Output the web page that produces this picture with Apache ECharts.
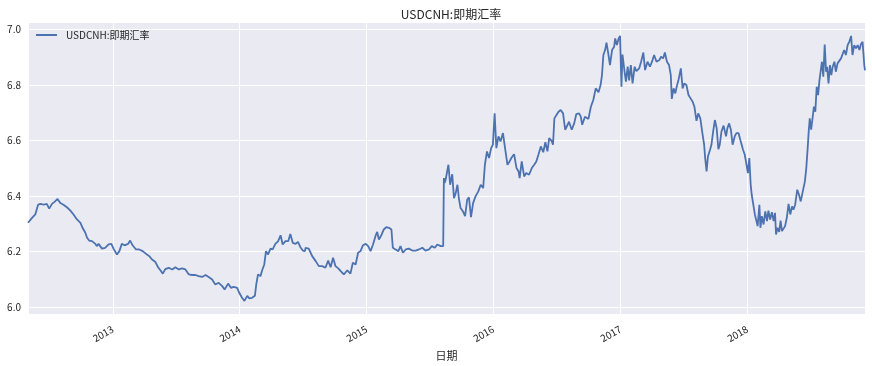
<!DOCTYPE html>
<html><head><meta charset="utf-8">
<script src="https://cdn.jsdelivr.net/npm/echarts@6/dist/echarts.min.js"></script>
<style>html,body{margin:0;padding:0;background:#fff}#c{width:872px;height:366px}</style>
</head><body><div id="c"></div>
<script>
const titleText = 'USDCNH:即期汇率';
const seriesName = 'USDCNH:即期汇率';
const xAxisName = '日期';
const dates = [
'2012-05-02','2012-05-13','2012-05-23','2012-05-31','2012-06-06','2012-06-16','2012-06-25','2012-07-02','2012-07-10','2012-07-19',
'2012-07-26','2012-08-03','2012-08-12','2012-08-22','2012-09-01','2012-09-10','2012-09-20','2012-09-30','2012-10-06','2012-10-14',
'2012-10-19','2012-10-25','2012-11-02','2012-11-12','2012-11-16','2012-11-21','2012-12-01','2012-12-10','2012-12-20','2012-12-28',
'2013-01-03','2013-01-13','2013-01-20','2013-01-27','2013-02-04','2013-02-14','2013-02-20','2013-02-27','2013-03-09','2013-03-18',
'2013-03-28','2013-04-07','2013-04-16','2013-04-24','2013-05-03','2013-05-11','2013-05-18','2013-05-25','2013-06-01',
'2013-06-11','2013-06-21','2013-06-30','2013-07-10','2013-07-19','2013-07-29','2013-08-08','2013-08-17','2013-08-27','2013-09-05',
'2013-09-15','2013-09-25','2013-10-04','2013-10-14','2013-10-23','2013-11-02','2013-11-12','2013-11-19','2013-11-29','2013-12-07',
'2013-12-15','2013-12-25','2013-12-31','2014-01-08','2014-01-15','2014-01-23','2014-01-29','2014-02-06','2014-02-14','2014-02-18',
'2014-02-23','2014-03-02','2014-03-07','2014-03-13','2014-03-18','2014-03-24','2014-03-31','2014-04-06','2014-04-14','2014-04-22',
'2014-04-29','2014-05-05','2014-05-13','2014-05-21','2014-05-27','2014-06-03','2014-06-11','2014-06-18','2014-06-25','2014-07-02','2014-07-08',
'2014-07-10','2014-07-19','2014-07-29','2014-08-08','2014-08-17','2014-08-27','2014-09-05','2014-09-13','2014-09-20','2014-09-27',
'2014-10-04','2014-10-12','2014-10-19','2014-10-28','2014-11-07','2014-11-16','2014-11-23','2014-12-01','2014-12-08','2014-12-15',
'2014-12-22','2014-12-30','2015-01-06','2015-01-13','2015-01-20','2015-01-27','2015-02-01','2015-02-06','2015-02-14','2015-02-20',
'2015-02-27','2015-03-07','2015-03-14','2015-03-18','2015-03-26','2015-04-03','2015-04-09','2015-04-16','2015-04-24','2015-05-03',
'2015-05-13','2015-05-23','2015-06-01','2015-06-11','2015-06-20','2015-06-30','2015-07-08','2015-07-17','2015-07-24','2015-08-03',
'2015-08-10','2015-08-12','2015-08-14',
'2015-08-17','2015-08-25','2015-08-30','2015-09-05','2015-09-10','2015-09-15','2015-09-20','2015-09-24','2015-09-29','2015-10-06',
'2015-10-12','2015-10-18','2015-10-23','2015-10-29','2015-11-04','2015-11-11','2015-11-19','2015-11-26','2015-12-03','2015-12-08',
'2015-12-14','2015-12-20','2015-12-26','2015-12-31','2016-01-05','2016-01-10','2016-01-16','2016-01-22','2016-01-29','2016-02-04',
'2016-02-11','2016-02-17','2016-02-23','2016-03-01','2016-03-08','2016-03-14','2016-03-17','2016-03-23','2016-03-30','2016-04-05',
'2016-04-13','2016-04-21','2016-04-28','2016-05-04','2016-05-10','2016-05-17','2016-05-24','2016-05-30','2016-06-05','2016-06-10',
'2016-06-17','2016-06-21','2016-06-25','2016-07-01','2016-07-07','2016-07-13','2016-07-20','2016-07-26','2016-08-02','2016-08-06',
'2016-08-14','2016-08-21','2016-08-27','2016-09-04','2016-09-09','2016-09-13','2016-09-21',
'2016-09-23','2016-10-01','2016-10-08','2016-10-15','2016-10-22','2016-10-30','2016-11-05','2016-11-09','2016-11-13','2016-11-18',
'2016-11-22','2016-11-27','2016-12-02','2016-12-08','2016-12-14','2016-12-17','2016-12-22','2016-12-27','2016-12-31','2017-01-04',
'2017-01-07','2017-01-13','2017-01-17','2017-01-22','2017-01-26','2017-01-31','2017-02-05','2017-02-11','2017-02-16','2017-02-24',
'2017-03-02','2017-03-08','2017-03-13','2017-03-20','2017-03-27','2017-04-02','2017-04-08','2017-04-15','2017-04-23','2017-04-28',
'2017-05-04','2017-05-09','2017-05-15','2017-05-21','2017-05-26','2017-05-29','2017-06-03','2017-06-08','2017-06-12','2017-06-17',
'2017-06-24','2017-06-29','2017-07-04','2017-07-10','2017-07-16','2017-07-22','2017-07-28','2017-08-02','2017-08-08','2017-08-13',
'2017-08-19','2017-08-25','2017-08-30','2017-09-02','2017-09-06','2017-09-10','2017-09-16','2017-09-20','2017-09-25','2017-09-30',
'2017-10-05','2017-10-10','2017-10-14','2017-10-19','2017-10-25',
'2017-11-01','2017-11-05','2017-11-10','2017-11-15','2017-11-20','2017-11-26','2017-12-01','2017-12-07','2017-12-12','2017-12-16',
'2017-12-20','2017-12-25','2017-12-30','2018-01-03','2018-01-07','2018-01-11','2018-01-14','2018-01-19','2018-01-23','2018-01-27',
'2018-01-31','2018-02-05','2018-02-08','2018-02-12','2018-02-17','2018-02-22','2018-02-27','2018-03-03','2018-03-08','2018-03-13',
'2018-03-18','2018-03-22','2018-03-25','2018-03-29','2018-04-03','2018-04-07','2018-04-11','2018-04-16','2018-04-20','2018-04-25',
'2018-04-30','2018-05-05','2018-05-10','2018-05-14','2018-05-19','2018-05-25','2018-05-30','2018-06-04','2018-06-07','2018-06-12',
'2018-06-16','2018-06-20','2018-06-24','2018-06-27','2018-06-30','2018-07-04','2018-07-08','2018-07-12','2018-07-16','2018-07-20',
'2018-07-24','2018-07-28','2018-07-31','2018-08-04','2018-08-08','2018-08-12','2018-08-16','2018-08-19','2018-08-23','2018-08-27',
'2018-08-31','2018-09-04','2018-09-09','2018-09-13','2018-09-18','2018-09-23','2018-09-28','2018-10-03','2018-10-07','2018-10-12',
'2018-10-17','2018-10-22','2018-10-27','2018-10-31','2018-11-05','2018-11-10','2018-11-15','2018-11-20','2018-11-24','2018-11-29',
'2018-12-01','2018-12-04','2018-12-06'
];
const values = [
6.303,6.320,6.333,6.368,6.371,6.368,6.371,6.354,6.371,6.380,
6.389,6.374,6.368,6.359,6.347,6.333,6.315,6.303,6.285,6.267,
6.249,6.239,6.237,6.227,6.219,6.227,6.210,6.213,6.225,6.227,
6.210,6.189,6.201,6.227,6.222,6.227,6.239,6.222,6.207,6.207,
6.201,6.191,6.183,6.171,6.163,6.144,6.132,6.120,6.136,
6.141,6.135,6.143,6.135,6.139,6.135,6.117,6.115,6.115,6.111,
6.108,6.115,6.108,6.099,6.081,6.087,6.075,6.063,6.084,6.069,
6.072,6.069,6.051,6.033,6.022,6.040,6.031,6.033,6.040,6.081,
6.117,6.111,6.132,6.153,6.201,6.189,6.210,6.207,6.227,6.237,
6.258,6.225,6.237,6.237,6.263,6.231,6.227,6.234,6.215,6.203,6.201,
6.213,6.210,6.183,6.165,6.147,6.147,6.141,6.167,6.143,6.177,
6.147,6.139,6.129,6.117,6.132,6.120,6.159,6.153,6.195,6.201,
6.222,6.227,6.219,6.201,6.225,6.255,6.270,6.243,6.261,6.279,
6.287,6.285,6.279,6.213,6.207,6.201,6.219,6.195,6.207,6.210,
6.203,6.203,6.207,6.213,6.203,6.207,6.219,6.213,6.225,6.219,
6.219,6.464,6.446,
6.458,6.512,6.440,6.478,6.392,6.410,6.440,6.392,6.356,6.344,
6.327,6.386,6.395,6.323,6.374,6.398,6.416,6.440,6.428,6.512,
6.560,6.536,6.572,6.584,6.697,6.572,6.614,6.596,6.626,6.572,
6.512,6.524,6.538,6.550,6.500,6.488,6.464,6.524,6.470,6.482,
6.476,6.500,6.512,6.524,6.548,6.578,6.557,6.593,6.560,6.608,
6.598,6.584,6.679,6.691,6.703,6.709,6.697,6.638,6.656,6.667,
6.638,6.661,6.694,6.697,6.685,6.656,6.685,
6.685,6.677,6.721,6.745,6.787,6.773,6.799,6.835,6.907,6.925,
6.952,6.913,6.871,6.925,6.937,6.967,6.943,6.967,6.976,6.793,
6.909,6.847,6.811,6.865,6.816,6.871,6.805,6.865,6.849,6.859,
6.885,6.916,6.853,6.883,6.865,6.883,6.907,6.883,6.889,6.901,
6.895,6.916,6.883,6.871,6.835,6.749,6.787,6.769,6.793,6.816,
6.859,6.787,6.805,6.799,6.763,6.751,6.739,6.721,6.670,6.697,
6.679,6.626,6.584,6.536,6.488,6.542,6.566,6.584,6.632,6.673,
6.644,6.568,6.584,6.632,6.653,
6.614,6.644,6.661,6.638,6.584,6.614,6.626,6.626,6.602,6.608,
6.566,6.548,6.512,6.482,6.536,6.440,6.404,6.398,6.333,6.339,
6.291,6.368,6.285,6.327,6.297,6.344,6.309,6.347,6.315,6.341,
6.309,6.339,6.261,6.285,6.270,6.311,6.273,6.273,6.291,6.321,
6.371,6.333,6.362,6.350,6.368,6.422,6.404,6.380,6.398,6.392,
6.452,6.500,6.572,6.632,6.679,6.638,6.632,6.721,6.703,6.793,
6.763,6.817,6.823,6.883,6.829,6.945,6.847,6.865,6.805,6.871,
6.835,6.865,6.883,6.847,6.877,6.883,6.895,6.901,6.925,6.907,
6.943,6.955,6.976,6.907,6.943,6.931,6.943,6.925,6.945,6.955,
6.955,6.870,6.852
];
const yMin = 5.974, yMax = 7.026;
const FONT = '"Noto Sans CJK SC", "Noto Sans", sans-serif';
const TXT = '#262626';

const chart = echarts.init(document.getElementById('c'), null, {renderer: 'canvas'});
chart.setOption({
  animation: false,
  backgroundColor: '#ffffff',
  title: {
    text: titleText, left: 446, top: 3, textAlign: 'center',
    textStyle: {fontFamily: FONT, fontSize: 12, fontWeight: 'normal', color: TXT}
  },
  legend: {
    data: [seriesName], left: 36, top: 30, padding: 0,
    icon: 'rect', itemWidth: 21, itemHeight: 2,
    textStyle: {fontFamily: FONT, fontSize: 10, color: TXT, padding: [0, 0, 0, 4]}
  },
  grid: {left: 28, right: 7, top: 22, bottom: 50, show: true, backgroundColor: '#eaeaf2', borderWidth: 0},
  xAxis: {
    type: 'time', min: dates[0], max: dates[dates.length - 1],
    name: xAxisName, nameLocation: 'middle', nameGap: 34,
    nameTextStyle: {fontFamily: FONT, fontSize: 11, color: TXT},
    axisLine: {show: false}, axisTick: {show: false},
    splitLine: {show: true, lineStyle: {color: '#ffffff', width: 1}},
    axisLabel: {
      rotate: 30, formatter: '{yyyy}', fontFamily: FONT, fontSize: 10, color: TXT,
      showMinLabel: false, showMaxLabel: false, margin: 14, hideOverlap: false
    }
  },
  yAxis: {
    type: 'value', min: yMin, max: yMax, splitNumber: 5,
    axisLine: {show: false}, axisTick: {show: false},
    splitLine: {show: true, lineStyle: {color: '#ffffff', width: 1}},
    axisLabel: {
      fontFamily: FONT, fontSize: 10, color: TXT, margin: 7,
      showMinLabel: false, showMaxLabel: false,
      formatter: v => v.toFixed(1)
    }
  },
  series: [{
    name: seriesName, type: 'line', symbol: 'none', showSymbol: false,
    data: dates.map((d, i) => [d, values[i]]),
    lineStyle: {color: '#4c72b0', width: 1.8},
    itemStyle: {color: '#4c72b0'}
  }]
});
</script></body></html>
